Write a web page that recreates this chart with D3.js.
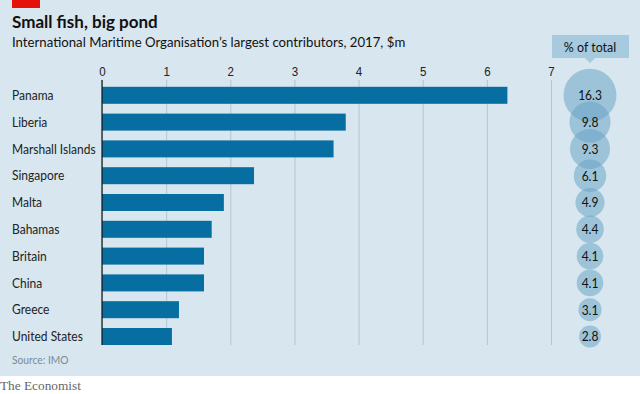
<!DOCTYPE html>
<html>
<head>
<meta charset="utf-8">
<script src="https://cdn.jsdelivr.net/npm/d3@7"></script>
<style>
  body { margin: 0; background: #fff; }
  svg { display: block; font-family: Lato, "Open Sans", sans-serif; }
</style>
</head>
<body>
<svg id="chart" width="640" height="394"></svg>
<script>
// data
var countries = ["Panama", "Liberia", "Marshall Islands", "Singapore", "Malta",
                 "Bahamas", "Britain", "China", "Greece", "United States"];
var contributions = [6.32, 3.80, 3.61, 2.37, 1.90, 1.71, 1.59, 1.59, 1.20, 1.09];
var shares = [16.3, 9.8, 9.3, 6.1, 4.9, 4.4, 4.1, 4.1, 3.1, 2.8];
var xTicks = [0, 1, 2, 3, 4, 5, 6, 7];

// the original font is a condensed sans, so squeeze Lato horizontally
var squeeze = 0.89;
function condensed(sel, fx, fy) {
    return sel.attr("x", 0).attr("y", 0)
        .attr("transform", function(d, i) {
            return "translate(" + fx(d, i) + "," + fy(d, i) + ") scale(" + squeeze + ",1)";
        });
}

var svg = d3.select("#chart");

// background panel
svg.append("rect").attr("x", 0).attr("y", 0).attr("width", 640).attr("height", 376)
    .attr("fill", "#d7e6ef");
svg.append("rect").attr("x", 12).attr("y", 0).attr("width", 28).attr("height", 8)
    .attr("fill", "#e3120b");

// title and subtitle
svg.append("text").attr("x", 12).attr("y", 28)
    .style("font-weight", "bold").style("font-size", "17px").attr("fill", "#111")
    .text("Small fish, big pond");
svg.append("text").attr("x", 12).attr("y", 47)
    .style("font-size", "13.2px").attr("fill", "#111")
    .text("International Maritime Organisation\u2019s largest contributors, 2017, $m");

// scales
var x = d3.scaleLinear().domain([0, 7]).range([102, 551]);
var y = d3.scalePoint().domain(countries).range([95.3, 336.5]);
var barH = 17;
var r = d3.scaleSqrt().domain([0, 16.3]).range([0, 26.5]);

// gridlines + tick labels
var axis = svg.append("g")
    .attr("transform", "translate(0,80)")
    .call(d3.axisTop(x).tickValues(xTicks).tickFormat(d3.format("d"))
        .tickSize(-(345 - 80)).tickPadding(4));
axis.select(".domain").remove();
axis.selectAll(".tick line").attr("stroke", "#b4c6d0").attr("stroke-width", 1);
axis.selectAll(".tick text").attr("fill", "#222").style("font-size", "13px")
    .style("font-family", null).attr("transform", "scale(" + squeeze + ",1)");

// bars
var rows = countries.map(function(c, i) { return { name: c, value: contributions[i], share: shares[i] }; });

svg.selectAll(".bar").data(rows).enter().append("rect")
    .attr("class", "bar")
    .attr("x", x(0))
    .attr("y", function(d) { return y(d.name) - barH / 2; })
    .attr("width", function(d) { return x(d.value) - x(0); })
    .attr("height", barH)
    .attr("fill", "#076ea2");

// zero line
svg.append("line").attr("x1", x(0)).attr("x2", x(0)).attr("y1", 80).attr("y2", 345)
    .attr("stroke", "#111").attr("stroke-width", 1.2);

// category labels
svg.selectAll(".label").data(rows).enter().append("text")
    .call(condensed, function() { return 12; }, function(d) { return y(d.name); })
    .attr("dy", "0.35em")
    .style("font-size", "13.5px").attr("fill", "#222")
    .text(function(d) { return d.name; });

// "% of total" header box with pointer
var cx = 590;
svg.append("path")
    .attr("d", "M552,35H629V58H" + (cx + 5) + "L" + cx + ",63L" + (cx - 5) + ",58H552Z")
    .attr("fill", "#a7cade");
svg.append("text")
    .call(condensed, function() { return cx; }, function() { return 51.5; })
    .attr("text-anchor", "middle")
    .style("font-size", "14px").attr("fill", "#111").text("% of total");

// share bubbles
svg.selectAll(".bubble").data(rows).enter().append("circle")
    .attr("cx", cx)
    .attr("cy", function(d) { return y(d.name); })
    .attr("r", function(d) { return r(d.share); })
    .attr("fill", "rgb(100,160,196)")
    .attr("fill-opacity", 0.5);
svg.selectAll(".share").data(rows).enter().append("text")
    .call(condensed, function() { return cx; }, function(d) { return y(d.name); })
    .attr("dy", "0.36em")
    .attr("text-anchor", "middle")
    .style("font-size", "13.5px").attr("fill", "#111")
    .text(function(d) { return d.share.toFixed(1); });

// source and logo
svg.append("text")
    .call(condensed, function() { return 12; }, function() { return 364; })
    .style("font-size", "11.5px").attr("fill", "#7b8b94").text("Source: IMO");
svg.append("text").attr("x", 0).attr("y", 390)
    .style("font-family", "'Liberation Serif', 'DejaVu Serif', serif")
    .style("font-size", "13.3px").attr("fill", "#666").text("The Economist");
</script>
</body>
</html>
